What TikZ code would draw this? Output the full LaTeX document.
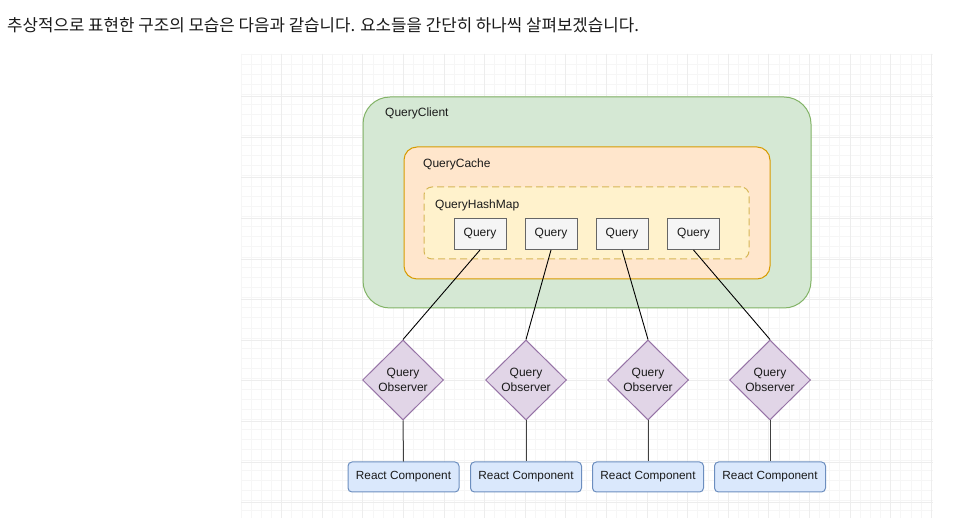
\documentclass[tikz,border=0pt]{standalone}
\usepackage{fontspec}
\setmainfont{Liberation Sans}
\newfontfamily\krfont{Noto Sans CJK KR}
\usetikzlibrary{shapes.geometric}
\definecolor{gridminor}{HTML}{F6F6F6}
\definecolor{gridmajor}{HTML}{EDEDED}
\definecolor{clientfill}{HTML}{D5E8D4}
\definecolor{clientdraw}{HTML}{82B366}
\definecolor{cachefill}{HTML}{FFE6CC}
\definecolor{cachedraw}{HTML}{D79B00}
\definecolor{mapfill}{HTML}{FFF2CC}
\definecolor{mapdraw}{HTML}{D6B656}
\definecolor{queryfill}{HTML}{F5F5F5}
\definecolor{querydraw}{HTML}{666666}
\definecolor{obsfill}{HTML}{E1D5E7}
\definecolor{obsdraw}{HTML}{9673A6}
\definecolor{reactfill}{HTML}{DAE8FC}
\definecolor{reactdraw}{HTML}{6C8EBF}
\definecolor{txt}{HTML}{1A1A1A}
\begin{document}
\begin{tikzpicture}[x=1pt,y=-1pt,
  container/.style={draw, line width=1pt, inner sep=0pt},
  lbl/.style={anchor=west, inner sep=0pt, font=\fontsize{12}{14}\selectfont, text=txt},
  querybox/.style={draw=querydraw, fill=queryfill, line width=1pt, minimum width=52pt, minimum height=31pt, inner sep=0pt, font=\fontsize{12}{14}\selectfont, text=txt},
  obsbox/.style={diamond, draw=obsdraw, fill=obsfill, line width=1pt, minimum width=81pt, minimum height=80pt, inner sep=0pt, align=center, font=\fontsize{12}{15}\selectfont, text=txt},
  reactbox/.style={draw=reactdraw, fill=reactfill, line width=1pt, rounded corners=4pt, minimum width=111pt, minimum height=30pt, inner sep=0pt, font=\fontsize{11.8}{14}\selectfont, text=txt},
  link/.style={draw=black, line width=0.9pt},
  stem/.style={draw=black!75, line width=1pt}
]
\useasboundingbox (0,0) rectangle (967,518);
\fill[white] (0,0) rectangle (967,518);
% grid
\begin{scope}
\clip (241,54) rectangle (933,518);
\foreach \i in {0,...,69} {
  \draw[gridminor, line width=0.8pt] ({241+\i*10.15},54) -- ({241+\i*10.15},518);
}
\foreach \j in {0,...,46} {
  \draw[gridminor, line width=0.8pt] (241,{54+\j*10.15}) -- (933,{54+\j*10.15});
}
\foreach \i in {1,...,17} {
  \draw[gridmajor, line width=1pt] ({241+\i*40.6},54) -- ({241+\i*40.6},518);
}
\foreach \j in {0,...,11} {
  \draw[gridmajor, line width=1pt] (241,{96.7+\j*40.6}) -- (933,{96.7+\j*40.6});
}
\end{scope}
% header
\node[anchor=west, inner sep=0pt, text=txt, font=\krfont\fontsize{16.8}{19}\selectfont] (header) at (7,25) {추상적으로 표현한 구조의 모습은 다음과 같습니다. 요소들을 간단히 하나씩 살펴보겠습니다.};
% containers
\node[container, draw=clientdraw, fill=clientfill, rounded corners=27pt, minimum width=448pt, minimum height=211pt] (client) at (587,202.5) {};
\node[lbl] (clientlbl) at (385,113) {QueryClient};
\node[container, draw=cachedraw, fill=cachefill, rounded corners=13pt, minimum width=366pt, minimum height=132pt] (cache) at (587,213) {};
\node[lbl] (cachelbl) at (423,164) {QueryCache};
\node[container, draw=mapdraw, fill=mapfill, rounded corners=8pt, dash pattern=on 7pt off 4pt, minimum width=325pt, minimum height=72pt] (map) at (586.5,223) {};
\node[lbl] (maplbl) at (435,205) {QueryHashMap};
% queries
\node[querybox] (q1) at (480,234) {Query};
\node[querybox] (q2) at (551,234) {Query};
\node[querybox] (q3) at (622,234) {Query};
\node[querybox] (q4) at (693.5,234) {Query};
% observers
\node[obsbox] (o1) at (403,380) {Query\\Observer};
\node[obsbox] (o2) at (526,380) {Query\\Observer};
\node[obsbox] (o3) at (648,380) {Query\\Observer};
\node[obsbox] (o4) at (770,380) {Query\\Observer};
% react components
\node[reactbox] (r1) at (403.5,477) {React Component};
\node[reactbox] (r2) at (526,477) {React Component};
\node[reactbox] (r3) at (648,477) {React Component};
\node[reactbox] (r4) at (770,477) {React Component};
% links
\foreach \k in {1,2,3,4} {
  \draw[link] (q\k.south) -- (o\k.north);
  \draw[stem] (o\k.south) -- (r\k.north);
}
\end{tikzpicture}
\end{document}
